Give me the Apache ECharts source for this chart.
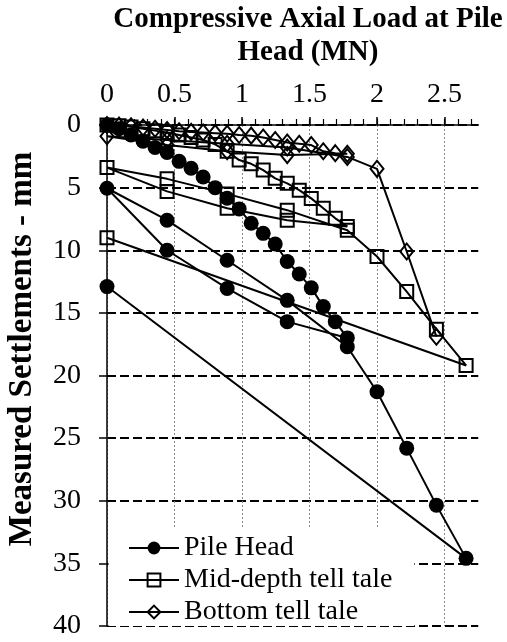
<!DOCTYPE html>
<html><head><meta charset="utf-8">
<script src="https://cdn.jsdelivr.net/npm/echarts@6/dist/echarts.min.js"></script>
<style>html,body{margin:0;padding:0;background:#fff}#c{width:507px;height:642px}</style>
</head><body><div id="c"></div>
<script>
const titleText = 'Compressive Axial Load at Pile\nHead (MN)';
const yName = 'Measured Settlements - mm';
const seriesNames = ['Pile Head', 'Mid-depth tell tale', 'Bottom tell tale'];
const xTickLabels = ['0', '0.5', '1', '1.5', '2', '2.5'];
const yTickLabels = ['0', '5', '10', '15', '20', '25', '30', '35', '40'];

// Pile head (load in MN, settlement in mm), in test order
const pileLoad = [0, 0.089, 0.178, 0.267, 0.356, 0.445, 0.534, 0.623, 0.712, 0.801, 0.89, 0.979, 1.068, 1.157, 1.246, 1.335, 1.424, 1.513, 1.602, 1.691, 1.78,
  1.335, 0.89, 0.445, 0, 0.445, 0.89, 1.335, 1.78, 2.0, 2.22, 2.44, 2.66, 0];
const pileSettle = [0, 0.3, 0.8, 1.3, 1.8, 2.2, 2.9, 3.45, 4.15, 5.0, 5.85, 6.7, 7.85, 8.65, 9.5, 10.9, 11.9, 13.0, 14.5, 15.7, 17.0,
  15.7, 13.05, 10.0, 5.05, 7.6, 10.8, 14.0, 17.7, 21.3, 25.8, 30.35, 34.6, 12.9];

// Mid-depth tell tale
const midLoad = [0, 0.089, 0.178, 0.267, 0.356, 0.445, 0.534, 0.623, 0.712, 0.801, 0.89, 0.979, 1.068, 1.157, 1.246, 1.335, 1.424, 1.513, 1.602, 1.691, 1.78,
  1.335, 0.89, 0.445, 0, 0.445, 0.89, 1.335, 1.78, 2.0, 2.22, 2.44, 2.66, 0];
const midSettle = [0, 0.05, 0.15, 0.3, 0.45, 0.6, 0.8, 1.0, 1.2, 1.55, 2.1, 2.8, 3.1, 3.6, 4.26, 4.66, 5.2, 5.86, 6.65, 7.45, 8.1,
  7.6, 6.65, 5.3, 3.4, 4.3, 5.5, 6.8, 8.4, 10.5, 13.3, 16.3, 19.2, 9.0];

// Bottom tell tale
const botLoad = [0, 0.089, 0.178, 0.267, 0.356, 0.445, 0.534, 0.623, 0.712, 0.801, 0.89, 0.979, 1.068, 1.157, 1.246, 1.335, 1.424, 1.513, 1.602, 1.691, 1.78,
  1.335, 0.89, 0.445, 0, 0.445, 0.89, 1.335, 1.78, 2.0, 2.22, 2.44];
const botSettle = [0, 0.05, 0.1, 0.2, 0.3, 0.4, 0.5, 0.55, 0.6, 0.65, 0.7, 0.8, 0.85, 1.0, 1.2, 1.4, 1.5, 1.6, 2.1, 2.25, 2.3,
  2.4, 2.1, 1.6, 0.9, 1.2, 1.5, 1.8, 2.55, 3.5, 10.1, 16.9];

const FONT = '"Liberation Serif", "Times New Roman", serif';
const zip = (a, b) => a.map((v, i) => [v, b[i]]);
const blackText = { fontSize: 28, fontFamily: FONT, color: '#000' };

const chart = echarts.init(document.getElementById('c'));
chart.setOption({
  animation: false,
  backgroundColor: '#fff',
  grid: [
    { left: 107, right: 28.75, top: 125, bottom: 16 },
    { left: 107, right: 62.5, top: 125, bottom: 16 },
    { left: 107, right: 35.5, top: 125, bottom: 16 }
  ],
  xAxis: [
    { gridIndex: 0, type: 'value', position: 'top', min: 0, max: 2.75,
      axisLine: { show: true, onZero: false, lineStyle: { color: '#000', width: 1.5 } },
      axisTick: { show: false }, axisLabel: { show: false }, splitLine: { show: false } },
    { gridIndex: 1, type: 'value', position: 'top', min: 0, max: 2.5, interval: 0.5,
      axisLine: { show: false, onZero: false },
      axisTick: { show: true, inside: false, length: 8, lineStyle: { color: '#000', width: 1.5 } },
      axisLabel: Object.assign({ show: true, margin: 16, formatter: v => xTickLabels[Math.round(v / 0.5)] ?? '' }, blackText),
      splitLine: { show: true, lineStyle: { color: '#888', width: 1, type: [2, 2] } } },
    { gridIndex: 2, type: 'value', position: 'top', min: 0, max: 2.7, interval: 0.1,
      axisLine: { show: false, onZero: false },
      axisTick: { show: true, inside: false, length: 6, lineStyle: { color: '#000', width: 1.2 } },
      axisLabel: { show: false }, splitLine: { show: false } }
  ],
  yAxis: [
    { gridIndex: 0, type: 'value', inverse: true, min: 0, max: 40, interval: 5,
      axisLine: { show: true, onZero: false, lineStyle: { color: '#000', width: 1.5 } },
      axisTick: { show: true, length: 8, lineStyle: { color: '#000', width: 1.5 } },
      axisLabel: Object.assign({ margin: 26, formatter: v => yTickLabels[Math.round(v / 5)] ?? '' }, blackText),
      splitLine: { show: true, lineStyle: { color: '#000', width: 2, type: [9, 4] } } },
    { gridIndex: 1, type: 'value', inverse: true, min: 0, max: 40, show: false },
    { gridIndex: 2, type: 'value', inverse: true, min: 0, max: 40, show: false }
  ],
  legend: {
    orient: 'vertical', left: 108.5, top: 528, backgroundColor: '#fff',
    padding: [6, 22, 0, 19.5], itemGap: 4, itemWidth: 50, itemHeight: 16,
    textStyle: Object.assign({ lineHeight: 28 }, blackText),
    data: seriesNames
  },
  graphic: [
    { type: 'text', x: 308, y: 36, z: 10,
      style: { text: titleText, font: 'bold 29px ' + FONT, fill: '#000', lineHeight: 33,
        align: 'center', verticalAlign: 'middle', textAlign: 'center', textVerticalAlign: 'middle' } },
    { type: 'text', x: 22, y: 349, rotation: Math.PI / 2, z: 10,
      style: { text: yName, font: 'bold 33px ' + FONT, fill: '#000',
        align: 'center', verticalAlign: 'middle', textAlign: 'center', textVerticalAlign: 'middle' } }
  ],
  series: [
    { type: 'line', name: seriesNames[0], xAxisIndex: 0, yAxisIndex: 0, data: zip(pileLoad, pileSettle),
      symbol: 'circle', symbolSize: 15, showSymbol: true,
      itemStyle: { color: '#000' }, lineStyle: { color: '#000', width: 2 }, z: 3 },
    { type: 'line', name: seriesNames[1], xAxisIndex: 0, yAxisIndex: 0, data: zip(midLoad, midSettle),
      symbol: 'rect', symbolSize: 13, showSymbol: true,
      itemStyle: { color: 'rgba(255,255,255,0)', borderColor: '#000', borderWidth: 2 },
      lineStyle: { color: '#000', width: 2 }, z: 3 },
    { type: 'line', name: seriesNames[2], xAxisIndex: 0, yAxisIndex: 0, data: zip(botLoad, botSettle),
      symbol: 'diamond', symbolSize: [13, 16], showSymbol: true,
      itemStyle: { color: 'rgba(255,255,255,0)', borderColor: '#000', borderWidth: 2 },
      lineStyle: { color: '#000', width: 2 }, z: 3 }
  ]
});
</script></body></html>
